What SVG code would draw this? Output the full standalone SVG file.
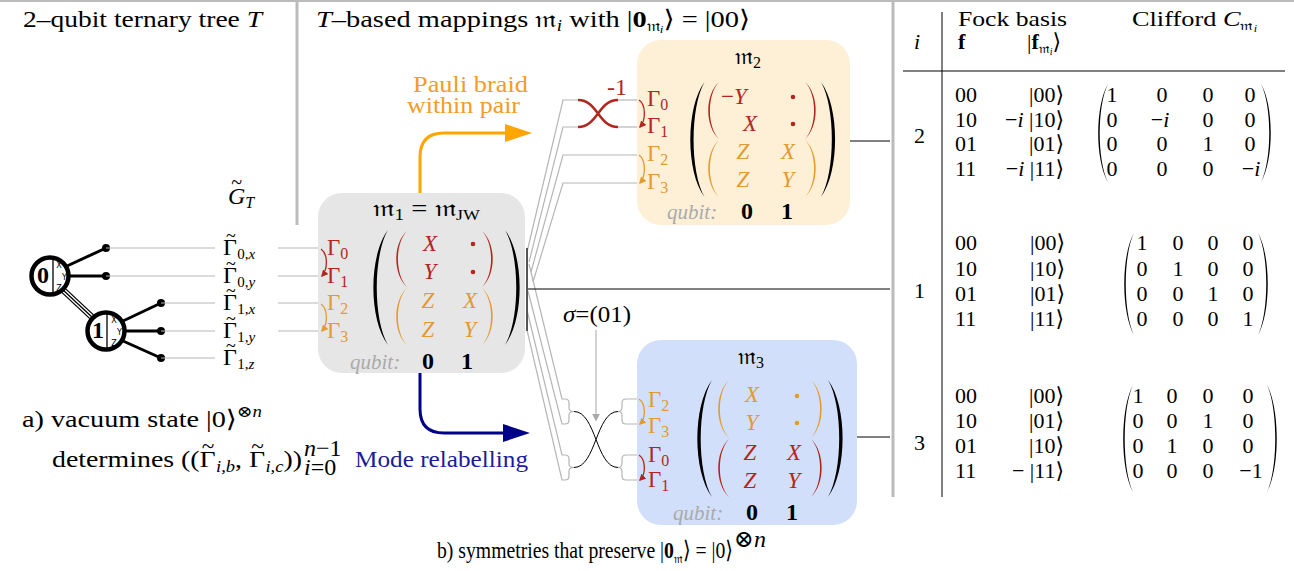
<svg xmlns="http://www.w3.org/2000/svg" width="1294" height="571" viewBox="0 0 1294 571">
<style>
text{font-family:"Liberation Serif","DejaVu Serif",serif;font-size:24px;fill:#000}
.it{font-style:italic}
.bf{font-weight:bold}
.red{fill:#b3261e}
.org{fill:#e39a30}
.bx{font-size:23px}
.sub{font-size:16px}
.gl{stroke:#b5b5b5;stroke-width:1.2;fill:none}
.bl{stroke:#000;stroke-width:1;fill:none}
.q{fill:#aaaaaa;font-style:italic;font-size:21px}
.tb{font-size:22px}
.mc{text-anchor:middle}
.xyz{font-size:8px;font-family:"DejaVu Sans",sans-serif}
</style>
<defs>
<path id="lp" d="M10,0 C-3,22 -3,78 10,100 C0,78 0,22 10,0 Z"/>
<path id="rp" d="M0,0 C13,22 13,78 0,100 C10,78 10,22 0,0 Z"/>
<path id="lpt" d="M10,0 C-3,22 -3,78 10,100 C-1,78 -1,22 10,0 Z"/>
<path id="rpt" d="M0,0 C13,22 13,78 0,100 C11,78 11,22 0,0 Z"/>
<marker id="aR" viewBox="0 0 10 10" refX="8" refY="5" markerWidth="7" markerHeight="7" markerUnits="userSpaceOnUse" orient="auto"><path d="M0,0 L10,5 L0,10 Z" fill="#b3261e"/></marker>
<marker id="aO" viewBox="0 0 10 10" refX="8" refY="5" markerWidth="7" markerHeight="7" markerUnits="userSpaceOnUse" orient="auto"><path d="M0,0 L10,5 L0,10 Z" fill="#e39a30"/></marker>
<marker id="aG" viewBox="0 0 10 10" refX="8" refY="5" markerWidth="8" markerHeight="8" markerUnits="userSpaceOnUse" orient="auto"><path d="M0,0 L10,5 L0,10 Z" fill="#aaaaaa"/></marker>
</defs>

<g id="frame">
<line x1="0" y1="1" x2="1294" y2="1" stroke="#bbbbbb" stroke-width="2"/>
<line x1="297" y1="0" x2="297" y2="225" stroke="#bbbbbb" stroke-width="3"/>
<line x1="893" y1="0" x2="893" y2="497" stroke="#bbbbbb" stroke-width="3"/>
</g>

<g id="titles">
<text x="23" y="27" textLength="239" lengthAdjust="spacingAndGlyphs">2–qubit ternary tree <tspan class="it">T</tspan></text>
<text x="316" y="27" textLength="434" lengthAdjust="spacingAndGlyphs"><tspan class="it">T</tspan>–based mappings 𝔪<tspan class="sub it" dy="4">i</tspan><tspan dy="-4"> with  |</tspan><tspan class="bf">0</tspan><tspan font-size="15" dy="4">𝔪</tspan><tspan font-size="11" class="it" dy="2">i</tspan><tspan dy="-6">⟩ = |00⟩</tspan></text>
<text x="228" y="204" class="it">G<tspan font-size="20" font-style="normal" dx="-14" dy="-15">~</tspan><tspan class="sub" dx="3" dy="19">T</tspan></text>
</g>

<g id="tree">
<line x1="67" y1="266" x2="106" y2="248" stroke="#000" stroke-width="3"/>
<line x1="69" y1="276" x2="106" y2="276" stroke="#000" stroke-width="3"/>
<line x1="123" y1="321" x2="161" y2="303" stroke="#000" stroke-width="3"/>
<line x1="125" y1="331" x2="161" y2="331" stroke="#000" stroke-width="3"/>
<line x1="123" y1="341" x2="161" y2="358" stroke="#000" stroke-width="3"/>
<line x1="62" y1="289" x2="93" y2="318" stroke="#000" stroke-width="1.3"/>
<line x1="60.2" y1="290.9" x2="91.2" y2="319.9" stroke="#000" stroke-width="1.3"/>
<line x1="63.8" y1="287.1" x2="94.8" y2="316.1" stroke="#000" stroke-width="1.3"/>
<circle cx="106" cy="248" r="4"/><circle cx="106" cy="276" r="4"/>
<circle cx="161" cy="303" r="4"/><circle cx="161" cy="331" r="4"/><circle cx="161" cy="358" r="4"/>
</g>
<g id="node0">
<circle cx="50" cy="276" r="18.5" fill="#fff" stroke="#000" stroke-width="4.5"/>
<line x1="53" y1="259" x2="53" y2="293" stroke="#000" stroke-width="1.3"/>
<text x="43" y="283" class="bf mc" font-size="20">0</text>
<text x="59" y="268" class="xyz mc">X</text>
<text x="64.5" y="279.5" class="xyz mc">Y</text>
<text x="59" y="291" class="xyz mc">Z</text>
</g>
<g id="node1">
<circle cx="106" cy="331" r="18.5" fill="#fff" stroke="#000" stroke-width="4.5"/>
<line x1="107" y1="314" x2="107" y2="348" stroke="#000" stroke-width="1.3"/>
<text x="98" y="338" class="bf mc" font-size="20">1</text>
<text x="114" y="323" class="xyz mc">X</text>
<text x="119.5" y="334.5" class="xyz mc">Y</text>
<text x="114" y="346" class="xyz mc">Z</text>
</g>
<g id="gammaTilde" font-size="21">
<text x="223" y="255" font-size="21">Γ<tspan font-size="18" dx="-11" dy="-13">~</tspan><tspan font-size="15" dx="1.5" dy="17">0,</tspan><tspan font-size="15" class="it">x</tspan></text>
<text x="223" y="283" font-size="21">Γ<tspan font-size="18" dx="-11" dy="-13">~</tspan><tspan font-size="15" dx="1.5" dy="17">0,</tspan><tspan font-size="15" class="it">y</tspan></text>
<text x="223" y="310" font-size="21">Γ<tspan font-size="18" dx="-11" dy="-13">~</tspan><tspan font-size="15" dx="1.5" dy="17">1,</tspan><tspan font-size="15" class="it">x</tspan></text>
<text x="223" y="338" font-size="21">Γ<tspan font-size="18" dx="-11" dy="-13">~</tspan><tspan font-size="15" dx="1.5" dy="17">1,</tspan><tspan font-size="15" class="it">y</tspan></text>
<text x="223" y="365" font-size="21">Γ<tspan font-size="18" dx="-11" dy="-13">~</tspan><tspan font-size="15" dx="1.5" dy="17">1,</tspan><tspan font-size="15" class="it">z</tspan></text>
</g>

<g id="m1">
<rect x="318" y="193" width="207" height="180" rx="24" fill="#e6e6e6"/>
<text x="373" y="216" textLength="107" lengthAdjust="spacingAndGlyphs">𝔪<tspan class="sub" dy="4">1</tspan><tspan dy="-4"> = 𝔪</tspan><tspan font-size="15" dy="4">JW</tspan></text>
<text x="327" y="255" class="bx red">Γ<tspan class="sub" dy="4">0</tspan></text>
<text x="327" y="283" class="bx red">Γ<tspan class="sub" dy="4">1</tspan></text>
<text x="327" y="310" class="bx org">Γ<tspan class="sub" dy="4">2</tspan></text>
<text x="327" y="338" class="bx org">Γ<tspan class="sub" dy="4">3</tspan></text>
<use href="#lp" transform="translate(373,230) scale(1.5,1.15)"/>
<use href="#rp" transform="translate(505,230) scale(1.5,1.15)"/>
<use href="#lpt" fill="#b3261e" transform="translate(396,231) scale(1.1,0.56)"/>
<use href="#rpt" fill="#b3261e" transform="translate(482,231) scale(1.1,0.56)"/>
<use href="#lpt" fill="#e39a30" transform="translate(396,288) scale(1.1,0.57)"/>
<use href="#rpt" fill="#e39a30" transform="translate(482,288) scale(1.1,0.57)"/>
<text x="430" y="251" class="bx it red mc">X</text><circle cx="473" cy="244" r="2.3" fill="#b3261e"/>
<text x="430" y="279" class="bx it red mc">Y</text><circle cx="473" cy="272" r="2.3" fill="#b3261e"/>
<text x="428" y="308" class="bx it org mc">Z</text><text x="470" y="308" class="bx it org mc">X</text>
<text x="428" y="337" class="bx it org mc">Z</text><text x="470" y="337" class="bx it org mc">Y</text>
<text x="350" y="369" class="q">qubit:</text>
<text x="428" y="369" class="bf mc" font-size="21">0</text>
<text x="467" y="369" class="bf mc" font-size="21">1</text>
</g>

<g id="m2">
<rect x="637" y="40" width="213" height="185" rx="24" fill="#fdf0d6"/>
<text x="748" y="64" class="mc">𝔪<tspan class="sub" dy="4">2</tspan></text>
<text x="647" y="106" class="bx red">Γ<tspan class="sub" dy="4">0</tspan></text>
<text x="647" y="133" class="bx red">Γ<tspan class="sub" dy="4">1</tspan></text>
<text x="647" y="161" class="bx org">Γ<tspan class="sub" dy="4">2</tspan></text>
<text x="647" y="189" class="bx org">Γ<tspan class="sub" dy="4">3</tspan></text>
<use href="#lp" transform="translate(690,82) scale(1.45,1.15)"/>
<use href="#rp" transform="translate(821,82) scale(1.45,1.15)"/>
<use href="#lpt" fill="#b3261e" transform="translate(708,82) scale(1.1,0.57)"/>
<use href="#rpt" fill="#b3261e" transform="translate(805,82) scale(1.1,0.57)"/>
<use href="#lpt" fill="#e39a30" transform="translate(708,140) scale(1.1,0.57)"/>
<use href="#rpt" fill="#e39a30" transform="translate(805,140) scale(1.1,0.57)"/>
<text x="721" y="104" class="bx red">−<tspan class="it">Y</tspan></text><circle cx="793" cy="97" r="2.3" fill="#b3261e"/>
<text x="750" y="131" class="bx it red mc">X</text><circle cx="793" cy="124" r="2.3" fill="#b3261e"/>
<text x="743" y="159" class="bx it org mc">Z</text><text x="788" y="159" class="bx it org mc">X</text>
<text x="743" y="187" class="bx it org mc">Z</text><text x="788" y="187" class="bx it org mc">Y</text>
<text x="667" y="219" class="q">qubit:</text>
<text x="747" y="219" class="bf mc" font-size="21">0</text>
<text x="787" y="219" class="bf mc" font-size="21">1</text>
</g>

<g id="m3">
<rect x="637" y="340" width="220" height="185" rx="24" fill="#d2dffa"/>
<text x="751" y="364" class="mc">𝔪<tspan class="sub" dy="4">3</tspan></text>
<text x="648" y="407" class="bx org">Γ<tspan class="sub" dy="4">2</tspan></text>
<text x="648" y="433" class="bx org">Γ<tspan class="sub" dy="4">3</tspan></text>
<text x="648" y="462" class="bx red">Γ<tspan class="sub" dy="4">0</tspan></text>
<text x="648" y="487" class="bx red">Γ<tspan class="sub" dy="4">1</tspan></text>
<use href="#lp" transform="translate(697,380) scale(1.5,1.17)"/>
<use href="#rp" transform="translate(828,380) scale(1.5,1.17)"/>
<use href="#lpt" fill="#e39a30" transform="translate(718,380) scale(1.1,0.58)"/>
<use href="#rpt" fill="#e39a30" transform="translate(811,380) scale(1.1,0.58)"/>
<use href="#lpt" fill="#b3261e" transform="translate(718,439) scale(1.1,0.58)"/>
<use href="#rpt" fill="#b3261e" transform="translate(811,439) scale(1.1,0.58)"/>
<text x="752" y="402" class="bx it org mc">X</text><circle cx="797" cy="396" r="2.3" fill="#e39a30"/>
<text x="752" y="430" class="bx it org mc">Y</text><circle cx="797" cy="423" r="2.3" fill="#e39a30"/>
<text x="750" y="460" class="bx it red mc">Z</text><text x="794" y="460" class="bx it red mc">X</text>
<text x="750" y="488" class="bx it red mc">Z</text><text x="794" y="488" class="bx it red mc">Y</text>
<text x="673" y="520" class="q">qubit:</text>
<text x="752" y="520" class="bf mc" font-size="21">0</text>
<text x="792" y="520" class="bf mc" font-size="21">1</text>
</g>

<g id="connectors">
<g class="gl">
<line x1="106" y1="248" x2="215" y2="248"/>
<line x1="106" y1="276" x2="215" y2="276"/>
<line x1="161" y1="303" x2="215" y2="303"/>
<line x1="161" y1="331" x2="215" y2="331"/>
<line x1="161" y1="358" x2="215" y2="358"/>
<line x1="278" y1="248" x2="318" y2="248"/>
<line x1="278" y1="276" x2="318" y2="276"/>
<line x1="278" y1="303" x2="318" y2="303"/>
<line x1="278" y1="331" x2="318" y2="331"/>
<polyline points="527,252 563,100 578,100"/>
<polyline points="529,262 563,127 578,127"/>
<polyline points="531,272 563,155 637,155"/>
<polyline points="533,282 563,183 637,183"/>
<line x1="618" y1="100" x2="637" y2="100"/>
<line x1="618" y1="127" x2="637" y2="127"/>
<path d="M529,264 L562,399 L565,399 Q569,399 569,403 L569,408 Q569,411.5 574,411.5"/>
<path d="M528,291 L562,424 L565,424 Q569,424 569,420 L569,415 Q569,411.5 574,411.5"/>
<path d="M527,310 L562,455 L565,455 Q569,455 569,459 L569,464 Q569,467.5 574,467.5"/>
<path d="M527,330 L562,480 L565,480 Q569,480 569,476 L569,471 Q569,467.5 574,467.5"/>
<path d="M618,411.5 Q622,411.5 622,407 L622,403 Q622,399 626,399 L637,399"/>
<path d="M618,411.5 Q622,411.5 622,416 L622,420 Q622,424 626,424 L637,424"/>
<path d="M618,467.5 Q622,467.5 622,463 L622,459 Q622,455 626,455 L637,455"/>
<path d="M618,467.5 Q622,467.5 622,472 L622,476 Q622,480 626,480 L637,480"/>
<line x1="596" y1="330" x2="596" y2="420" marker-end="url(#aG)"/>
</g>
<line x1="527" y1="248" x2="527" y2="331" stroke="#555" stroke-width="2"/>
<path d="M578,100 C598,100 598,127 618,127 M578,127 C598,127 598,100 618,100" stroke="#b3261e" stroke-width="2.5" fill="none"/>
<text x="607" y="95" font-size="14" class="red">-1</text>
<path d="M574,411.5 C596,411.5 596,467.5 618,467.5 M574,467.5 C596,467.5 596,411.5 618,411.5" class="bl" stroke-width="1.2"/>
<text x="563" y="322" font-size="22" textLength="68" lengthAdjust="spacingAndGlyphs"><tspan class="it">σ</tspan>=(01)</text>
<path d="M321,249 C328,254 328,269 322,276" stroke="#b3261e" stroke-width="1.3" fill="none" marker-end="url(#aR)"/>
<path d="M321,304 C328,309 328,324 322,331" stroke="#e39a30" stroke-width="1.3" fill="none" marker-end="url(#aO)"/>
<path d="M639,100 C646,105 646,120 640,127" stroke="#b3261e" stroke-width="1.3" fill="none" marker-end="url(#aR)"/>
<path d="M639,155 C646,160 646,176 640,183" stroke="#e39a30" stroke-width="1.3" fill="none" marker-end="url(#aO)"/>
<path d="M639,399 C646,404 646,418 640,424" stroke="#e39a30" stroke-width="1.3" fill="none" marker-end="url(#aO)"/>
<path d="M639,455 C646,460 646,474 640,480" stroke="#b3261e" stroke-width="1.3" fill="none" marker-end="url(#aR)"/>
<path d="M420,193 L420,157 Q420,133 444,133 L508,133" stroke="#ffa500" stroke-width="3" fill="none"/>
<polygon points="505,124 532,133 505,142" fill="#ffa500"/>
<path d="M420,373 L420,409 Q420,433 444,433 L506,433" stroke="#00008b" stroke-width="3" fill="none"/>
<polygon points="503,424 530,433 503,442" fill="#00008b"/>
<text x="413" y="92" style="fill:#f39c27" textLength="115" lengthAdjust="spacingAndGlyphs">Pauli braid</text>
<text x="407" y="113" style="fill:#f39c27" textLength="113" lengthAdjust="spacingAndGlyphs">within pair</text>
<text x="355" y="467" style="fill:#1c1c9a" textLength="173" lengthAdjust="spacingAndGlyphs">Mode relabelling</text>
<line x1="850" y1="141" x2="890" y2="141" class="bl"/>
<line x1="528" y1="289" x2="890" y2="289" class="bl"/>
<line x1="857" y1="437" x2="890" y2="437" class="bl"/>
</g>

<g id="captions">
<text x="22" y="427" textLength="240" lengthAdjust="spacingAndGlyphs">a) vacuum state |0⟩<tspan font-size="16" dy="-10">⊗<tspan class="it">n</tspan></tspan></text>
<text x="52" y="467" textLength="250" lengthAdjust="spacingAndGlyphs">determines ((Γ<tspan font-size="20" dx="-12" dy="-14">~</tspan><tspan font-size="16" class="it" dx="1.5" dy="19">i,b</tspan><tspan dy="-5">, Γ</tspan><tspan font-size="20" dx="-12" dy="-14">~</tspan><tspan font-size="16" class="it" dx="1.5" dy="19">i,c</tspan><tspan dy="-5">))</tspan></text>
<text x="304" y="456" font-size="16"><tspan class="it">n</tspan>−1</text>
<text x="304" y="475" font-size="16"><tspan class="it">i</tspan>=0</text>
<text x="437" y="558" font-size="22" textLength="296" lengthAdjust="spacingAndGlyphs">b) symmetries that preserve |<tspan class="bf">0</tspan><tspan font-size="14" dy="5">𝔪</tspan><tspan dy="-5">⟩ = |0⟩</tspan></text>
<text x="734" y="547" font-size="15">⊗<tspan class="it">n</tspan></text>
</g>

<g id="table">
<line x1="942" y1="12" x2="942" y2="497" class="bl"/>
<line x1="903" y1="71" x2="1285" y2="71" class="bl"/>
<text x="958" y="26" class="tb" textLength="109" lengthAdjust="spacingAndGlyphs">Fock basis</text>
<text x="1132" y="26" class="tb" textLength="125" lengthAdjust="spacingAndGlyphs">Clifford <tspan class="it">C</tspan><tspan font-size="14" dy="4">𝔪</tspan><tspan font-size="10" class="it" dy="2">i</tspan></text>
<text x="914" y="49" class="tb it">i</text>
<text x="958" y="49" class="tb bf">f</text>
<text x="1027" y="49" class="tb">|<tspan class="bf">f</tspan><tspan font-size="14" dy="4">𝔪</tspan><tspan font-size="10" class="it" dy="2">i</tspan><tspan dy="-6">⟩</tspan></text>
</g>
<g id="row2">
<text x="914" y="143" class="tb">2</text>
<text x="955" y="102" class="tb">00</text><text x="955" y="127" class="tb">10</text><text x="955" y="151" class="tb">01</text><text x="955" y="176" class="tb">11</text>
<text x="1064" y="102" class="tb" text-anchor="end">|00⟩</text>
<text x="1064" y="127" class="tb" text-anchor="end">−<tspan class="it">i</tspan> |10⟩</text>
<text x="1064" y="151" class="tb" text-anchor="end">|01⟩</text>
<text x="1064" y="176" class="tb" text-anchor="end">−<tspan class="it">i</tspan> |11⟩</text>
<use href="#lpt" transform="translate(1098,84) scale(1,0.98)"/>
<use href="#rpt" transform="translate(1261,84) scale(1,0.98)"/>
<text x="1112" y="102" class="tb mc">1</text><text x="1162" y="102" class="tb mc">0</text><text x="1208" y="102" class="tb mc">0</text><text x="1250" y="102" class="tb mc">0</text>
<text x="1112" y="127" class="tb mc">0</text><text x="1160" y="127" class="tb mc">−<tspan class="it">i</tspan></text><text x="1208" y="127" class="tb mc">0</text><text x="1250" y="127" class="tb mc">0</text>
<text x="1112" y="151" class="tb mc">0</text><text x="1162" y="151" class="tb mc">0</text><text x="1208" y="151" class="tb mc">1</text><text x="1250" y="151" class="tb mc">0</text>
<text x="1112" y="176" class="tb mc">0</text><text x="1162" y="176" class="tb mc">0</text><text x="1208" y="176" class="tb mc">0</text><text x="1251" y="176" class="tb mc">−<tspan class="it">i</tspan></text>
</g>
<g id="row1">
<text x="914" y="298" class="tb">1</text>
<text x="955" y="250" class="tb">00</text><text x="955" y="276" class="tb">10</text><text x="955" y="301" class="tb">01</text><text x="955" y="326" class="tb">11</text>
<text x="1030" y="250" class="tb">|00⟩</text><text x="1030" y="276" class="tb">|10⟩</text><text x="1030" y="301" class="tb">|01⟩</text><text x="1030" y="326" class="tb">|11⟩</text>
<use href="#lpt" transform="translate(1124,233) scale(1,1.02)"/>
<use href="#rpt" transform="translate(1258,233) scale(1,1.02)"/>
<text x="1142" y="250" class="tb mc">1</text><text x="1178" y="250" class="tb mc">0</text><text x="1213" y="250" class="tb mc">0</text><text x="1248" y="250" class="tb mc">0</text>
<text x="1142" y="276" class="tb mc">0</text><text x="1178" y="276" class="tb mc">1</text><text x="1213" y="276" class="tb mc">0</text><text x="1248" y="276" class="tb mc">0</text>
<text x="1142" y="301" class="tb mc">0</text><text x="1178" y="301" class="tb mc">0</text><text x="1213" y="301" class="tb mc">1</text><text x="1248" y="301" class="tb mc">0</text>
<text x="1142" y="326" class="tb mc">0</text><text x="1178" y="326" class="tb mc">0</text><text x="1213" y="326" class="tb mc">0</text><text x="1248" y="326" class="tb mc">1</text>
</g>
<g id="row3">
<text x="914" y="450" class="tb">3</text>
<text x="955" y="403" class="tb">00</text><text x="955" y="428" class="tb">10</text><text x="955" y="453" class="tb">01</text><text x="955" y="478" class="tb">11</text>
<text x="1064" y="403" class="tb" text-anchor="end">|00⟩</text>
<text x="1064" y="428" class="tb" text-anchor="end">|01⟩</text>
<text x="1064" y="453" class="tb" text-anchor="end">|10⟩</text>
<text x="1064" y="478" class="tb" text-anchor="end">− |11⟩</text>
<use href="#lpt" transform="translate(1123,385) scale(1,1.07)"/>
<use href="#rpt" transform="translate(1267,385) scale(1,1.07)"/>
<text x="1138" y="403" class="tb mc">1</text><text x="1172" y="403" class="tb mc">0</text><text x="1208" y="403" class="tb mc">0</text><text x="1248" y="403" class="tb mc">0</text>
<text x="1138" y="428" class="tb mc">0</text><text x="1172" y="428" class="tb mc">0</text><text x="1208" y="428" class="tb mc">1</text><text x="1248" y="428" class="tb mc">0</text>
<text x="1138" y="453" class="tb mc">0</text><text x="1172" y="453" class="tb mc">1</text><text x="1208" y="453" class="tb mc">0</text><text x="1248" y="453" class="tb mc">0</text>
<text x="1138" y="478" class="tb mc">0</text><text x="1172" y="478" class="tb mc">0</text><text x="1208" y="478" class="tb mc">0</text><text x="1251" y="478" class="tb mc">−1</text>
</g>
</svg>
